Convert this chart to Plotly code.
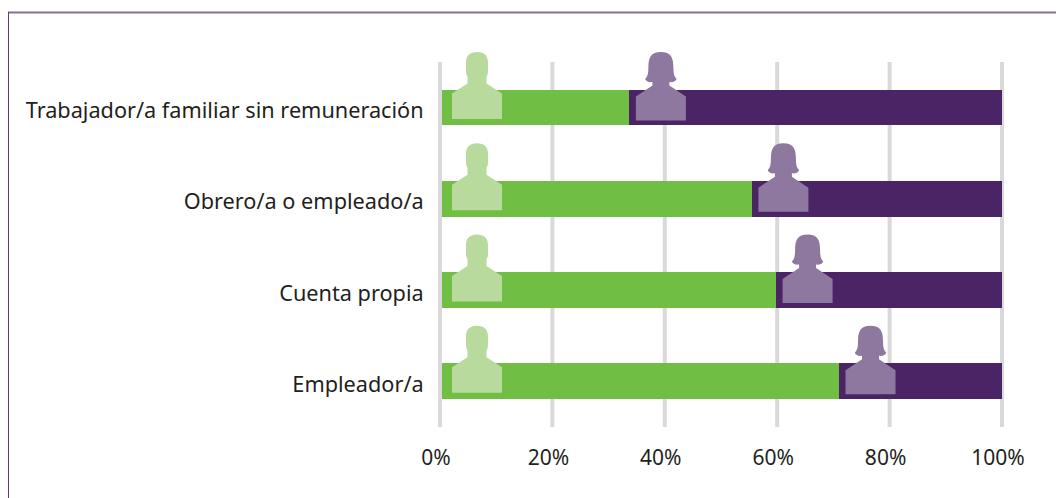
import re
import plotly.graph_objects as go

categories = ["Trabajador/a familiar sin remuneración", "Obrero/a o empleado/a", "Cuenta propia", "Empleador/a"]
hombres = [33.7, 55.5, 59.8, 71.0]
mujeres = [66.3, 44.5, 40.2, 29.0]
tick_values = [0, 20, 40, 60, 80, 100]
tick_labels = ["0%", "20%", "40%", "60%", "80%", "100%"]

GREEN = "#70bf44"
PURPLE = "#4a2465"
MAN = "#b8da9c"
WOMAN = "#8f789f"
GRID = "#d9d9d9"
TEXT = "#231f20"
W, H = 1056, 498
L, R, T, B = 430, 46, 45, 71
FONT = "Noto Sans"
PX_X = 5.62        # pixels per percentage point
PX_CAT = 91.25     # pixels per category
PW, PH = W - L - R, H - T - B
X_RANGE = [-(440 - L) / PX_X, -(440 - L) / PX_X + PW / PX_X]
Y_TOP = -(107.5 - T) / PX_CAT
Y_RANGE = [Y_TOP + PH / PX_CAT, Y_TOP]
GRID_TOP = 1 - (62 - T) / PH


def shift(path, dx):
    return re.sub(r"(-?[\d.]+),(-?[\d.]+)", lambda m: f"{float(m.group(1)) + dx},{m.group(2)}", path)


MAN_PATH = ("M -25,-11.5 L 25,-11.5 L 25,14 L 9.5,24 L 9.5,31 C 10.5,32 11,34 11,37 L 11,45 "
            "C 11,52 7,55.5 0,55.5 C -7,55.5 -11,52 -11,45 L -11,37 C -11,34 -10.5,32 -9.5,31 "
            "L -9.5,24 L -25,14 Z")
WOMAN_PATH = ("M -25,-13 L 25,-13 L 25,11 L 8.5,22 L 8.5,25.5 C 12,25 15,26 15.7,28.5 "
              "C 13,31 12.5,35 12.5,40 C 12.5,50 10,55.5 0,55.5 C -10,55.5 -12.5,50 -12.5,40 "
              "C -12.5,35 -13,31 -15.7,28.5 C -15,26 -12,25 -8.5,25.5 L -8.5,22 L -25,11 Z")

fig = go.Figure()
fig.add_bar(y=categories, x=hombres, orientation="h", name="Hombres", marker_color=GREEN, marker_line_width=0)
fig.add_bar(y=categories, x=mujeres, orientation="h", name="Mujeres", marker_color=PURPLE, marker_line_width=0)

shapes = []
for v in tick_values:
    shapes.append(dict(type="line", xref="x", yref="paper", x0=v, x1=v, y0=0, y1=GRID_TOP,
                       line=dict(color=GRID, width=4), layer="above" if v == 0 else "below"))
shapes += [
    dict(type="line", xref="paper", yref="paper", x0=(8 - L) / PW, x1=(W - L) / PW,
         y0=1 + (T - 12.5) / PH, y1=1 + (T - 12.5) / PH, line=dict(color="#866f9b", width=2)),
    dict(type="line", xref="paper", yref="paper", x0=(8.5 - L) / PW, x1=(8.5 - L) / PW,
         y0=1 + (T - 12) / PH, y1=-B / PH, line=dict(color="#5a3a78", width=1)),
]
for cat, value in zip(categories, hombres):
    shapes.append(dict(type="path", xref="x", yref="y", xsizemode="pixel", ysizemode="pixel",
                       xanchor=0, yanchor=cat, path=shift(MAN_PATH, 37),
                       fillcolor=MAN, line_width=0, layer="above"))
    shapes.append(dict(type="path", xref="x", yref="y", xsizemode="pixel", ysizemode="pixel",
                       xanchor=value, yanchor=cat, path=shift(WOMAN_PATH, 31.5),
                       fillcolor=WOMAN, line_width=0, layer="above"))

fig.update_layout(
    width=W, height=H, barmode="stack", bargap=0.61, showlegend=False,
    margin=dict(l=L, r=R, t=T, b=B, pad=0),
    paper_bgcolor="white", plot_bgcolor="white",
    font=dict(family=FONT, size=21, color=TEXT),
    shapes=shapes,
    xaxis=dict(range=X_RANGE, tickmode="array", tickvals=tick_values, ticktext=tick_labels,
               showgrid=False, zeroline=False, showline=False,
               ticks="outside", ticklen=12, tickcolor="rgba(0,0,0,0)", ticklabelshift=-4,
               tickfont=dict(family=FONT, size=21, color=TEXT)),
    yaxis=dict(categoryorder="array", categoryarray=categories, range=Y_RANGE,
               showgrid=False, zeroline=False, showline=False,
               ticks="outside", ticklen=1, tickcolor="rgba(0,0,0,0)", ticklabelshift=-3,
               tickfont=dict(family=FONT, size=21.7, color=TEXT)),
)
fig.write_html("out.html", config=dict(displayModeBar=False),
               post_script="document.body.style.margin='0';document.body.style.overflow='hidden';")
